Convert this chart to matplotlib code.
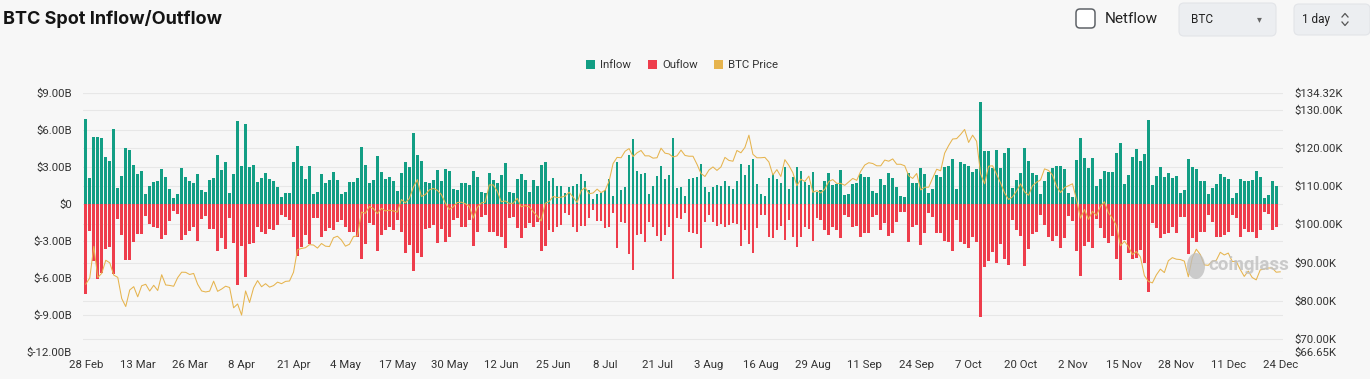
import matplotlib

matplotlib.use("Agg")
import matplotlib.pyplot as plt
import pandas as pd
from matplotlib.patches import FancyBboxPatch, Rectangle, Ellipse

plt.rcParams["font.family"] = ["Roboto", "DejaVu Sans"]

W, H = 1370, 379
BG = "#F7F7F7"
GREEN = "#129E84"
RED = "#EE3D4C"
GOLD = "#E6B44E"
GRID = "#E7E7E7"
TEXT = "#333333"

START = "2025-02-28"

# daily spot inflow, $B (28 Feb .. 24 Dec)
inflow = [
    6.86, 2.1, 5.4, 5.45, 5.35, 3.8, 3.5, 6.05, 1.3, 2.3,
    4.55, 4.4, 3.2, 2.4, 2.7, 0.85, 1.45, 1.75, 1.9, 2.85,
    2.2, 1.25, 0.5, 0.85, 2.9, 2.15, 1.9, 1.7, 2.4, 1.1,
    0.95, 1.95, 2.1, 3.95, 2.75, 3.4, 0.9, 2.45, 6.7, 3.1,
    6.5, 3.0, 3.19, 1.78, 2.08, 2.54, 2.03, 1.86, 1.41, 0.54,
    0.92, 0.92, 3.38, 4.7, 3.05, 2.03, 3.08, 0.81, 0.97, 2.46,
    1.73, 1.95, 2.59, 1.95, 0.78, 1.0, 1.81, 1.81, 2.14, 4.62,
    3.16, 1.68, 1.97, 3.89, 2.59, 2.03, 2.22, 1.89, 1.05, 2.51,
    3.38, 2.97, 5.76, 3.95, 3.49, 1.81, 1.70, 1.97, 2.76, 1.89,
    2.81, 2.65, 1.22, 1.11, 1.73, 1.68, 1.51, 2.70, 2.22, 1.0,
    0.86, 2.54, 1.95, 1.73, 2.32, 3.30, 0.95, 0.86, 2.03, 2.41,
    1.95, 0.95, 1.95, 1.46, 3.16, 3.43, 1.89, 2.14, 1.46, 1.46,
    0.92, 1.41, 1.46, 1.62, 2.41, 1.86, 1.14, 0.41, 0.81, 0.92,
    1.14, 2.0, 0.68, 3.43, 1.14, 1.35, 4.0, 5.24, 2.68, 2.41,
    2.54, 0.81, 1.49, 2.30, 3.08, 2.03, 2.35, 5.32, 1.27, 1.41,
    0.65, 2.03, 2.14, 2.22, 3.24, 1.35, 1.0, 1.41, 1.51, 1.46,
    1.89, 1.46, 1.19, 1.89, 3.24, 2.35, 3.16, 3.62, 1.62, 0.78,
    0.68, 2.14, 2.43, 2.0, 1.73, 3.0, 1.19, 2.22, 2.97, 2.70,
    1.78, 1.51, 2.62, 1.0, 1.14, 1.86, 2.49, 1.51, 1.62, 2.76,
    0.73, 0.81, 1.62, 1.68, 2.41, 2.22, 2.22, 1.05, 0.86, 2.0,
    1.54, 2.51, 2.14, 1.35, 0.65, 0.54, 2.49, 1.68, 1.68, 2.92,
    2.43, 0.86, 1.19, 2.32, 2.16, 2.97, 3.08, 3.68, 1.24, 3.41,
    3.24, 3.08, 2.59, 2.81, 8.3, 4.30, 4.30, 2.92, 4.35, 2.92,
    4.11, 4.57, 1.32, 1.95, 2.49, 4.51, 3.51, 2.49, 2.38, 0.81,
    1.86, 2.59, 2.9, 3.1, 3.1, 2.85, 0.86, 0.54, 3.57, 5.38,
    3.76, 2.89, 3.70, 1.46, 2.0, 2.70, 2.59, 2.57, 4.11, 4.97,
    1.62, 2.32, 3.84, 4.43, 3.49, 4.05, 6.81, 1.54, 2.30, 3.03,
    2.16, 2.54, 2.08, 2.27, 0.86, 1.14, 3.65, 2.97, 2.84, 1.86,
    1.89, 0.81, 1.27, 1.62, 2.41, 2.16, 2.0, 0.46, 0.86, 2.03,
    1.89, 1.89, 1.95, 2.68, 2.16, 0.46, 0.75, 1.89, 1.5, 0.0,
]

# daily spot outflow, $B (plotted below zero)
outflow = [
    -7.3, -2.2, -4.6, -6.05, -5.6, -3.65, -3.45, -5.7, -1.2, -2.55,
    -4.5, -4.5, -3.05, -2.45, -2.45, -0.95, -1.6, -1.85, -1.95, -2.8,
    -2.5, -1.35, -0.55, -0.8, -2.95, -2.5, -2.2, -1.85, -3.0, -1.25,
    -1.0, -2.05, -2.05, -3.85, -2.75, -3.65, -1.1, -3.2, -6.6, -3.4,
    -5.95, -3.25, -3.19, -1.84, -2.24, -2.43, -2.05, -2.11, -1.70, -0.89,
    -1.03, -1.30, -2.65, -4.22, -3.46, -2.51, -3.27, -1.11, -1.16, -2.65,
    -2.19, -1.97, -2.11, -1.43, -1.30, -1.84, -2.24, -2.24, -2.65, -4.46,
    -3.27, -1.57, -1.70, -3.78, -2.51, -2.11, -1.84, -2.11, -1.30, -2.24,
    -3.95, -3.32, -5.43, -4.0, -4.27, -2.03, -1.97, -1.70, -3.14, -2.05,
    -3.05, -2.65, -1.30, -1.16, -1.84, -1.84, -1.30, -3.41, -2.24, -1.03,
    -0.89, -2.27, -2.24, -2.59, -2.65, -3.54, -1.16, -1.03, -1.97, -2.78,
    -1.97, -1.51, -1.84, -1.43, -3.81, -3.38, -2.11, -2.24, -1.84, -1.70,
    -0.76, -0.89, -1.84, -2.24, -1.78, -1.76, -1.16, -0.49, -1.38, -1.38,
    -1.92, -1.89, -0.76, -3.59, -1.43, -1.57, -4.05, -5.35, -2.51, -2.46,
    -3.11, -1.43, -1.84, -2.59, -2.97, -2.51, -1.84, -6.11, -1.16, -1.24,
    -0.76, -2.24, -2.38, -2.43, -3.59, -1.43, -0.89, -1.43, -1.78, -1.62,
    -1.84, -1.70, -1.57, -1.62, -3.41, -2.11, -3.24, -4.0, -1.97, -0.89,
    -0.89, -2.65, -2.73, -2.11, -1.78, -2.92, -1.30, -2.70, -3.46, -2.65,
    -1.84, -2.03, -3.03, -1.16, -1.30, -2.11, -2.51, -1.84, -2.11, -2.73,
    -0.89, -1.03, -1.84, -1.76, -2.65, -2.38, -2.38, -1.03, -0.89, -2.11,
    -1.57, -2.57, -2.32, -1.43, -0.62, -0.68, -3.11, -1.89, -1.70, -3.32,
    -2.32, -0.76, -1.08, -2.38, -2.38, -2.97, -3.11, -3.84, -1.30, -3.11,
    -3.24, -3.54, -2.65, -3.05, -9.14, -5.14, -4.59, -3.86, -4.76, -3.24,
    -4.49, -4.95, -1.30, -2.11, -2.57, -5.03, -3.65, -2.43, -2.24, -0.89,
    -1.70, -2.65, -3.0, -2.6, -3.59, -2.73, -0.97, -1.35, -3.81, -5.84,
    -3.41, -3.11, -3.54, -1.24, -1.97, -2.73, -3.19, -2.57, -4.46, -6.16,
    -2.92, -4.0, -4.46, -4.41, -3.73, -4.76, -7.16, -1.57, -1.97, -2.78,
    -2.43, -2.38, -1.84, -2.38, -1.03, -1.03, -4.05, -2.78, -3.05, -2.24,
    -2.24, -0.89, -1.43, -2.65, -2.65, -2.5, -2.3, -0.9, -1.16, -2.65,
    -2.05, -2.24, -2.24, -2.78, -2.11, -0.62, -0.82, -2.08, -1.84, 0.0,
]

# BTC daily price, $K, by month
price_feb = [84.37]
price_mar = [86.03, 94.27, 86.12, 87.22, 90.62, 89.96, 86.74, 86.15, 80.60, 78.53,
             82.86, 83.72, 81.07, 83.97, 84.34, 82.58, 84.08, 82.72, 86.85, 84.17,
             84.04, 83.83, 86.08, 87.50, 87.47, 86.90, 87.18, 84.35, 82.60, 82.34, 82.55]
price_apr = [85.16, 82.50, 83.10, 83.84, 83.50, 78.20, 79.20, 76.30, 82.60, 79.60,
             83.40, 85.30, 83.70, 84.50, 83.60, 84.00, 84.90, 84.50, 85.10, 85.20,
             87.50, 93.40, 93.70, 93.90, 94.70, 94.60, 93.80, 95.00, 94.30, 94.20]
price_may = [96.50, 96.90, 95.90, 94.30, 94.80, 96.80, 97.00, 103.20, 102.90, 104.70,
             104.10, 102.80, 104.20, 103.50, 103.70, 103.50, 103.20, 106.50, 105.60, 106.80,
             109.70, 111.70, 107.30, 107.80, 109.00, 109.40, 108.90, 107.80, 105.60, 103.90, 104.60]
price_jun = [105.70, 105.80, 105.40, 104.70, 101.60, 104.40, 105.60, 105.80, 110.30, 110.30,
             108.70, 105.90, 106.10, 105.50, 105.50, 106.80, 104.60, 104.90, 104.60, 103.30,
             102.20, 100.90, 105.50, 106.00, 107.30, 107.00, 107.10, 107.40, 108.40, 107.10]
price_jul = [105.70, 108.80, 109.60, 108.00, 108.20, 109.20, 108.30, 108.90, 111.30, 115.90,
             117.50, 117.40, 119.10, 119.80, 117.70, 118.70, 119.30, 117.90, 117.90, 117.30,
             117.40, 119.90, 118.60, 118.40, 117.60, 117.90, 119.40, 118.00, 117.80, 117.80, 115.70]
price_aug = [113.30, 112.50, 114.20, 115.00, 114.10, 115.00, 117.50, 116.70, 116.50, 119.30,
             118.70, 120.10, 123.30, 118.30, 117.40, 117.40, 117.50, 116.30, 112.90, 114.30,
             112.50, 116.90, 115.40, 113.50, 110.10, 111.80, 111.20, 112.60, 108.40, 108.80, 108.20]
price_sep = [109.20, 111.20, 111.70, 110.70, 110.70, 110.20, 111.10, 112.00, 111.50, 113.90,
             115.50, 116.10, 115.90, 115.30, 115.30, 116.80, 116.50, 117.10, 115.70, 115.70,
             115.30, 112.70, 112.00, 113.30, 109.00, 109.70, 109.70, 112.10, 114.40, 114.00]
price_oct = [118.60, 120.60, 122.30, 122.40, 123.50, 124.80, 121.40, 123.30, 121.70, 113.20,
             110.60, 115.20, 115.30, 113.10, 110.80, 108.20, 106.50, 107.20, 108.70, 110.60,
             108.50, 107.60, 110.10, 111.00, 111.60, 114.50, 114.10, 112.90, 110.00, 108.30, 109.60]
price_nov = [110.10, 110.60, 106.50, 101.60, 103.90, 101.30, 103.40, 102.30, 104.70, 105.90,
             103.00, 101.60, 99.70, 94.40, 95.60, 94.20, 92.10, 92.90, 91.50, 86.60,
             85.10, 84.70, 86.80, 88.30, 87.40, 90.50, 91.30, 90.90, 90.80, 90.40]
price_dec = [86.30, 91.30, 93.50, 92.10, 89.40, 89.30, 90.40, 90.60, 92.70, 92.00,
             92.50, 90.30, 90.30, 88.20, 86.40, 87.80, 86.10, 85.50, 88.10, 88.30,
             88.60, 88.60, 87.50, 87.60]

flow_ticks = [-12, -9, -6, -3, 0, 3, 6, 9]
price_ticks = [66.65, 70, 80, 90, 100, 110, 120, 130, 134.32]


def flow_label(v):
    return "$0" if v == 0 else f"${v:.2f}B"


def main():
    price = (price_feb + price_mar + price_apr + price_may + price_jun + price_jul
             + price_aug + price_sep + price_oct + price_nov + price_dec)
    n = len(inflow)
    dates = pd.date_range(START, periods=n, freq="D")
    idx = list(range(n))

    fig = plt.figure(figsize=(W / 100, H / 100), dpi=100, facecolor=BG)

    ax = fig.add_axes([83 / W, 1 - 352 / H, 1200 / W, 259 / H])
    ax.set_facecolor(BG)
    ax2 = ax.twinx()

    # overlay in pixel coordinates for header widgets and watermark (on top)
    ui = fig.add_axes([0, 0, 1, 1], zorder=10)
    ui.set_xlim(0, W)
    ui.set_ylim(H, 0)
    ui.axis("off")

    ax.bar(idx, inflow, width=0.66, color=GREEN, zorder=2)
    ax.bar(idx, outflow, width=0.66, color=RED, zorder=2)
    ax.set_ylim(-12, 9)
    ax.set_xlim(-0.7, n - 0.3)

    ax2.plot(idx, price, color=GOLD, lw=0.75, zorder=3)
    ax2.set_ylim(price_ticks[0], price_ticks[-1])

    for v in flow_ticks:
        ax.axhline(v, color=GRID, lw=0.8, zorder=0)
    for p in price_ticks:
        ax.plot([-1, n + 1], [p, p], color=GRID, lw=0.8, zorder=0, transform=ax2.transData)

    ax.set_yticks(flow_ticks)
    ax.set_yticklabels([flow_label(v) for v in flow_ticks])
    ax2.set_yticks(price_ticks)
    ax2.set_yticklabels([f"${p:.2f}K" for p in price_ticks])
    xt = idx[::13]
    ax.set_xticks(xt)
    ax.set_xticklabels([f"{dates[i].day} {dates[i].strftime('%b')}" for i in xt])

    for a in (ax, ax2):
        for s in a.spines.values():
            s.set_visible(False)
        a.tick_params(length=0, labelsize=8.2, labelcolor=TEXT)
    ax.tick_params(axis="y", pad=8)
    ax2.tick_params(axis="y", pad=8)
    ax.tick_params(axis="x", pad=6)

    # title
    ui.text(3, 19, "BTC Spot Inflow/Outflow", fontsize=13, fontweight="bold",
            family=["Inter", "DejaVu Sans"], color="#141414", va="center", ha="left")

    # legend
    for x0, color, label in [(586, GREEN, "Inflow"), (648, RED, "Ouflow"), (714, GOLD, "BTC Price")]:
        ui.add_patch(Rectangle((x0, 60), 9, 9, facecolor=color, edgecolor="none"))
        ui.text(x0 + 14, 64.5, label, fontsize=8.2, color=TEXT, va="center", ha="left")

    # header widgets
    ui.add_patch(FancyBboxPatch((1076, 9), 19, 19, boxstyle="round,pad=0,rounding_size=4",
                                facecolor="white", edgecolor="#5F6368", lw=1.1))
    ui.text(1105, 19, "Netflow", fontsize=11, color="#222222", va="center", ha="left")
    ui.add_patch(FancyBboxPatch((1179, 3), 97, 33, boxstyle="round,pad=0,rounding_size=5",
                                facecolor="#ECEEF1", edgecolor="#E2E4E8", lw=0.8))
    ui.text(1191, 19.5, "BTC", fontsize=8.5, color="#222222", va="center", ha="left")
    ui.text(1259, 19.5, "\u25BE", fontsize=7, color="#666666", va="center", ha="center")
    ui.add_patch(FancyBboxPatch((1294, 4), 76, 31, boxstyle="round,pad=0,rounding_size=5",
                                facecolor="#ECEEF1", edgecolor="#E2E4E8", lw=0.8))
    ui.text(1302, 19.5, "1 day", fontsize=8.5, color="#222222", va="center", ha="left")
    ui.plot([1342, 1345, 1348], [17, 13.5, 17], color="#555555", lw=0.9)
    ui.plot([1342, 1345, 1348], [22, 25.5, 22], color="#555555", lw=0.9)

    # watermark
    ui.add_patch(Ellipse((1196, 266), 18, 26, facecolor="#BDBDBD", edgecolor="none", alpha=0.75))
    ui.text(1249, 265, "coinglass", fontsize=13.5, fontweight="bold", color="#C2C2C2",
            va="center", ha="center", alpha=0.85)

    fig.savefig("out.png", dpi=100, facecolor=BG)
    plt.close(fig)


if __name__ == "__main__":
    main()
